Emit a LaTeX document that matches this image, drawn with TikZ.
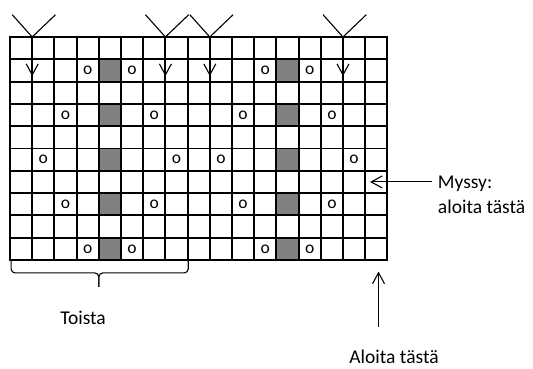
\documentclass[tikz,border=0pt]{standalone}
\usepackage{fontspec}
\setmainfont{Carlito}
\usepackage{tikz}
\usetikzlibrary{arrows.meta}
\definecolor{stitchgray}{HTML}{808080}

\begin{document}
\begin{tikzpicture}[x=22.2pt,y=-22.3pt,
  gridline/.style={line width=1.9pt,line cap=rect},
  thinline/.style={line width=1.1pt},
  barb/.style={thinline,-{Straight Barb[length=11pt,width=12pt]}},
  lab/.style={font=\fontsize{19.5}{25}\selectfont,inner sep=0pt}]
\useasboundingbox (-0.4505,-1.659) rectangle (23.559,14.888);
\foreach \c in {4,12}{\foreach \r in {1,3,5,7,9}{\fill[stitchgray] (\c,\r) rectangle (\c+1,\r+1);}}
\foreach \r/\cols in {1/{3,5,11,13},3/{2,6,10,14},5/{1,7,9,15},7/{2,6,10,14},9/{3,5,11,13}}{
  \foreach \c in \cols {\node[font=\fontsize{17.5}{18}\selectfont] (o-\r-\c) at (\c+0.5,\r+0.5) {o};}}
\foreach \i in {0,...,17}{\draw[gridline] (\i,0) -- (\i,10);}
\foreach \j in {0,...,10}{\draw[gridline] (0,\j) -- (17,\j);}
\foreach \c in {1,7,9,15}{
  \draw[thinline] (\c-0.9,-1) -- (\c,0) -- (\c+1.05,-1);
  \draw[barb] (\c,0) -- (\c,1.75);}
\draw[thinline,rounded corners=4pt] (0.05,10.05) |- (4,10.58) -- (4,11.21);
\draw[thinline,rounded corners=4pt] (8.03,10.05) |- (4,10.58) -- (4,11.21);
\node[lab] (toista) at (3.29,12.6) {Toista};
\node[lab] (aloita) at (17.3,14.35) {Aloita tästä};
\node[lab,inner xsep=6pt,anchor=west,align=left] (myssy) at (19.0,7.08) {Myssy:\\aloita tästä};
\coordinate (mtip) at (16.22,6.5);
\coordinate (uptip) at (16.6,10.52);
\coordinate (upfoot) at (16.6,13.0);
\draw[barb] (myssy.west |- mtip) -- (mtip);
\draw[barb] (upfoot) -- (uptip);
\end{tikzpicture}
\end{document}
